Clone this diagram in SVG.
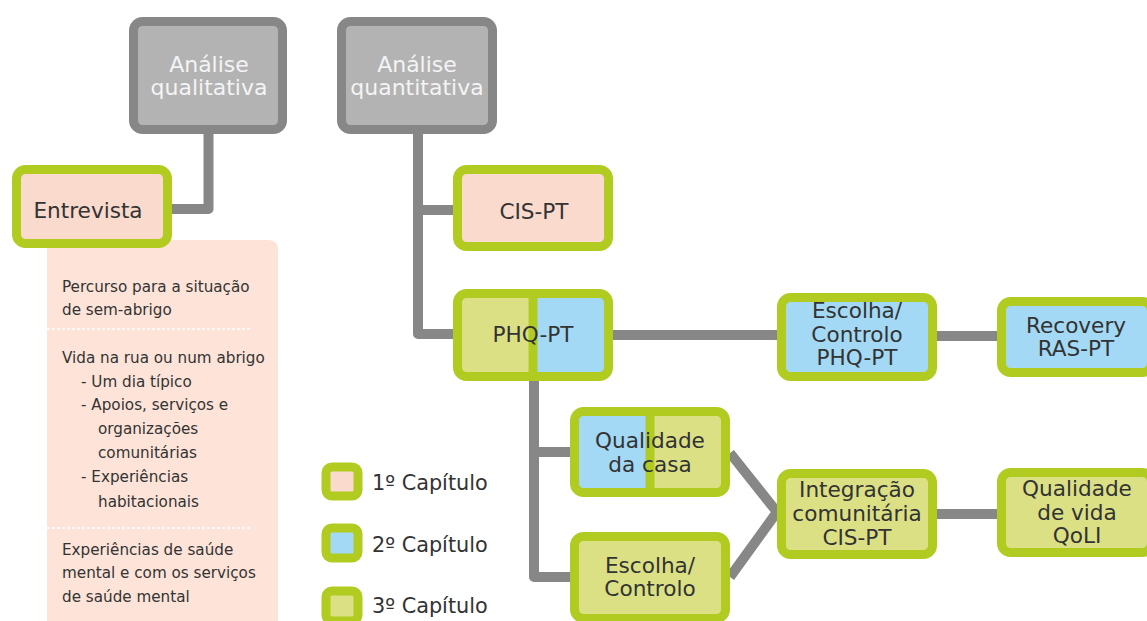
<svg xmlns="http://www.w3.org/2000/svg" width="1147" height="621" viewBox="0 0 1147 621">
  <style>
    .bg { fill: #ffffff; }
    .line { fill: none; stroke: #878787; stroke-width: 10; stroke-linejoin: round; }
    .head { fill: #b3b3b3; stroke: #878787; stroke-width: 9; }
    .node { stroke: #b2cb21; stroke-width: 9; }
    .pink { fill: #f9dacd; }
    .blue { fill: #a3d9f5; }
    .lime { fill: #dbe085; }
    .divider { stroke: #b2cb21; stroke-width: 9; }
    .ht { font-family: "DejaVu Sans", Verdana, sans-serif; font-size: 22px; fill: #f4f4f4; text-anchor: middle; }
    .nt { font-family: "DejaVu Sans", Verdana, sans-serif; font-size: 21.6px; fill: #333333; text-anchor: middle; }
    .lg { font-family: "DejaVu Sans", Verdana, sans-serif; font-size: 20.8px; fill: #333333; }
    .pt { font-family: "DejaVu Sans", Verdana, sans-serif; font-size: 15.2px; fill: #333333; }
    .sep { stroke: #ffffff; stroke-width: 1.5; stroke-dasharray: 3 2; }
  </style>

  <rect class="bg" x="0" y="0" width="1147" height="621"/>

  <!-- interview topics panel -->
  <g id="topics">
    <path d="M47 240 H268 Q278 240 278 250 V621 H47 Z" fill="#fde3d8"/>
    <text class="pt" x="62" y="292">Percurso para a situação</text>
    <text class="pt" x="62" y="315">de sem-abrigo</text>
    <line class="sep" x1="47" y1="329" x2="252" y2="329"/>
    <text class="pt" x="62" y="363">Vida na rua ou num abrigo</text>
    <text class="pt" x="81" y="387">- Um dia típico</text>
    <text class="pt" x="81" y="410">- Apoios, serviços e</text>
    <text class="pt" x="98" y="434">organizações</text>
    <text class="pt" x="98" y="458">comunitárias</text>
    <text class="pt" x="81" y="482">- Experiências</text>
    <text class="pt" x="98" y="507">habitacionais</text>
    <line class="sep" x1="47" y1="528" x2="252" y2="528"/>
    <text class="pt" x="62" y="555">Experiências de saúde</text>
    <text class="pt" x="62" y="578">mental e com os serviços</text>
    <text class="pt" x="62" y="602">de saúde mental</text>
  </g>

  <!-- connectors -->
  <g id="connectors">
    <path class="line" d="M208.5 134 V209 H172"/>
    <path class="line" d="M418 134 V334 H453"/>
    <path class="line" d="M418 210 H453"/>
    <path class="line" d="M613 335 H777"/>
    <path class="line" d="M937 336 H997"/>
    <path class="line" d="M534 381 V577 H570"/>
    <path class="line" d="M534 452 H570"/>
    <path class="line" d="M730 453 L777 512 L730 577"/>
    <path class="line" d="M937 514 H997"/>
  </g>

  <g id="analise-qualitativa">
    <rect class="head" x="133.5" y="21.5" width="149" height="108" rx="9"/>
    <text class="ht" x="209" y="72">Análise</text>
    <text class="ht" x="209" y="95">qualitativa</text>
  </g>

  <g id="analise-quantitativa">
    <rect class="head" x="341.5" y="21.5" width="151" height="108" rx="9"/>
    <text class="ht" x="417" y="72">Análise</text>
    <text class="ht" x="417" y="95">quantitativa</text>
  </g>

  <g id="entrevista">
    <rect class="node pink" x="16.5" y="169.5" width="151" height="74" rx="9"/>
    <text class="nt" x="88" y="218">Entrevista</text>
  </g>

  <g id="cis-pt">
    <rect class="node pink" x="457.5" y="169.5" width="151" height="77" rx="9"/>
    <text class="nt" x="534" y="219">CIS-PT</text>
  </g>

  <g id="phq-pt">
    <rect class="lime" x="457.5" y="293.5" width="76" height="83"/>
    <rect class="blue" x="533" y="293.5" width="75.5" height="83"/>
    <line class="divider" x1="533" y1="293.5" x2="533" y2="376.5"/>
    <rect class="node" fill="none" x="457.5" y="293.5" width="151" height="83" rx="9"/>
    <text class="nt" x="533" y="342">PHQ-PT</text>
  </g>

  <g id="escolha-controlo-phq">
    <rect class="node blue" x="781.5" y="297.5" width="151" height="79" rx="9"/>
    <text class="nt" x="857" y="318">Escolha/</text>
    <text class="nt" x="857" y="342">Controlo</text>
    <text class="nt" x="857" y="365">PHQ-PT</text>
  </g>

  <g id="recovery-ras-pt">
    <rect class="node blue" x="1001.5" y="301.5" width="150" height="71" rx="9"/>
    <text class="nt" x="1076" y="333">Recovery</text>
    <text class="nt" x="1076" y="356">RAS-PT</text>
  </g>

  <g id="qualidade-casa">
    <rect class="blue" x="574.5" y="411.5" width="76" height="81"/>
    <rect class="lime" x="650" y="411.5" width="75.5" height="81"/>
    <line class="divider" x1="650" y1="411.5" x2="650" y2="492.5"/>
    <rect class="node" fill="none" x="574.5" y="411.5" width="151" height="81" rx="9"/>
    <text class="nt" x="650" y="448">Qualidade</text>
    <text class="nt" x="650" y="472">da casa</text>
  </g>

  <g id="escolha-controlo">
    <rect class="node lime" x="574.5" y="536.5" width="151" height="82" rx="9"/>
    <text class="nt" x="650" y="573">Escolha/</text>
    <text class="nt" x="650" y="596">Controlo</text>
  </g>

  <g id="integracao-comunitaria">
    <rect class="node lime" x="781.5" y="473.5" width="151" height="81" rx="9"/>
    <text class="nt" x="857" y="497">Integração</text>
    <text class="nt" x="857" y="521">comunitária</text>
    <text class="nt" x="857" y="545">CIS-PT</text>
  </g>

  <g id="qualidade-vida">
    <rect class="node lime" x="1001.5" y="472.5" width="150" height="80" rx="9"/>
    <text class="nt" x="1077" y="496">Qualidade</text>
    <text class="nt" x="1077" y="520">de vida</text>
    <text class="nt" x="1077" y="543">QoLI</text>
  </g>

  <!-- chapter legend -->
  <g id="legend">
    <rect class="node pink" x="326" y="467" width="32" height="29" rx="6"/>
    <text class="lg" x="372" y="490">1º Capítulo</text>
    <rect class="node blue" x="326" y="528" width="32" height="30" rx="6"/>
    <text class="lg" x="372" y="552">2º Capítulo</text>
    <rect class="node lime" x="326" y="591" width="32" height="30" rx="6"/>
    <text class="lg" x="372" y="613">3º Capítulo</text>
  </g>
</svg>
